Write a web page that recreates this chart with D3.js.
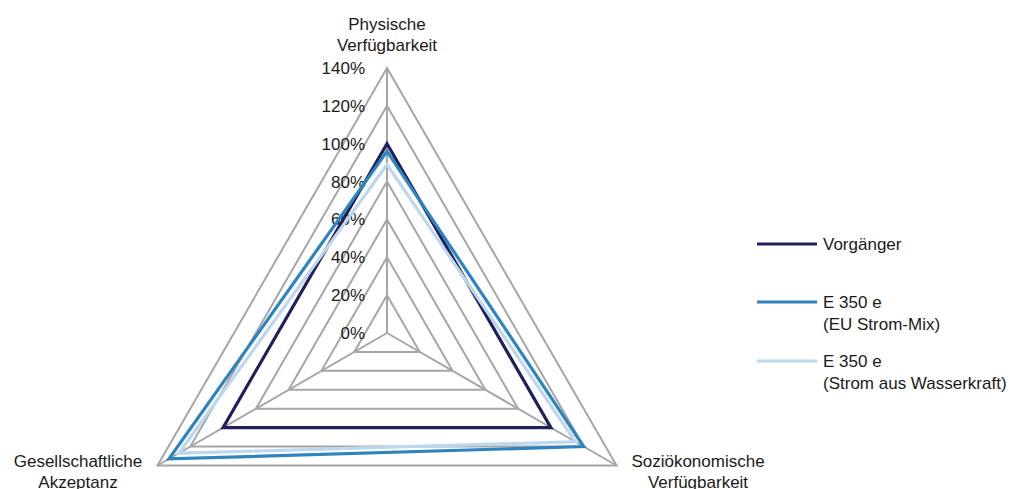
<!DOCTYPE html>
<head>
  <meta charset="utf-8">
  <script src="https://d3js.org/d3.v7.min.js"></script>
  <style>
    body { margin:0; background:#fff; }
    text { font-family: "Liberation Sans", Arial, sans-serif; font-size:17px; fill:#1a1a1a; }
  </style>
</head>
<body>
<svg width="1019" height="489" id="radar"></svg>
<script>
  // axes clockwise from top
  var axes = [["Physische", "Verfügbarkeit"], ["Soziökonomische", "Verfügbarkeit"], ["Gesellschaftliche", "Akzeptanz"]];
  var ticks = [0, 20, 40, 60, 80, 100, 120, 140];
  var seriesNames = [["Vorgänger"], ["E 350 e", "(EU Strom-Mix)"], ["E 350 e", "(Strom aus Wasserkraft)"]];
  var vorgaenger = [100, 100, 100];
  var euMix = [96, 120, 133];
  var wasser = [89, 115, 127];
  var colors = ["#20205a", "#2e84bf", "#bdd7ee"];

  var svg = d3.select("#radar"),
      cx = 387, cy = 333;
  var r = d3.scaleLinear().domain([0, 140]).range([0, 265]);
  var g = svg.append("g").attr("transform", "translate(" + cx + "," + cy + ")");

  function pt(i, v) {
    var a = i * 2 * Math.PI / axes.length;
    return [r(v) * Math.sin(a), -r(v) * Math.cos(a)];
  }
  var line = d3.line();

  // grid triangles
  g.selectAll(".grid").data(ticks.slice(1)).enter().append("path")
    .attr("class", "grid")
    .attr("d", function(t) { return line(axes.map(function(a, i) { return pt(i, t); })) + "Z"; })
    .attr("fill", "none").attr("stroke", "#a6a6a6").attr("stroke-width", 2);

  // spokes
  g.selectAll(".spoke").data(axes).enter().append("line")
    .attr("x1", 0).attr("y1", 0)
    .attr("x2", function(d, i) { return pt(i, 140)[0]; })
    .attr("y2", function(d, i) { return pt(i, 140)[1]; })
    .attr("stroke", "#a6a6a6").attr("stroke-width", 2);

  // tick labels
  g.selectAll(".tick").data(ticks).enter().append("text")
    .attr("x", -22).attr("y", function(t) { return -r(t); })
    .attr("dy", "0.35em").attr("text-anchor", "end")
    .text(function(t) { return t + "%"; });

  // series
  [vorgaenger, euMix, wasser].forEach(function(vals, k) {
    g.append("path")
      .attr("d", line(vals.map(function(v, i) { return pt(i, v); })) + "Z")
      .attr("fill", "none").attr("stroke", colors[k]).attr("stroke-width", 3.2)
      .attr("stroke-linejoin", "miter");
  });

  // axis labels
  var labelPos = [[387, 30], [698, 467], [78, 467]];
  axes.forEach(function(a, i) {
    var t = svg.append("text").attr("text-anchor", "middle")
      .attr("x", labelPos[i][0]).attr("y", labelPos[i][1]);
    a.forEach(function(s, j) {
      t.append("tspan").attr("x", labelPos[i][0]).attr("dy", j ? 21 : 0).text(s);
    });
  });

  // legend
  var legY = [244, 302, 361];
  seriesNames.forEach(function(n, k) {
    svg.append("line").attr("x1", 757).attr("x2", 817)
      .attr("y1", legY[k]).attr("y2", legY[k])
      .attr("stroke", colors[k]).attr("stroke-width", 3.2);
    var t = svg.append("text").attr("x", 823).attr("y", legY[k] + 6);
    n.forEach(function(s, j) {
      t.append("tspan").attr("x", 823).attr("dy", j ? 21.5 : 0).text(s);
    });
  });
</script>
</body>
